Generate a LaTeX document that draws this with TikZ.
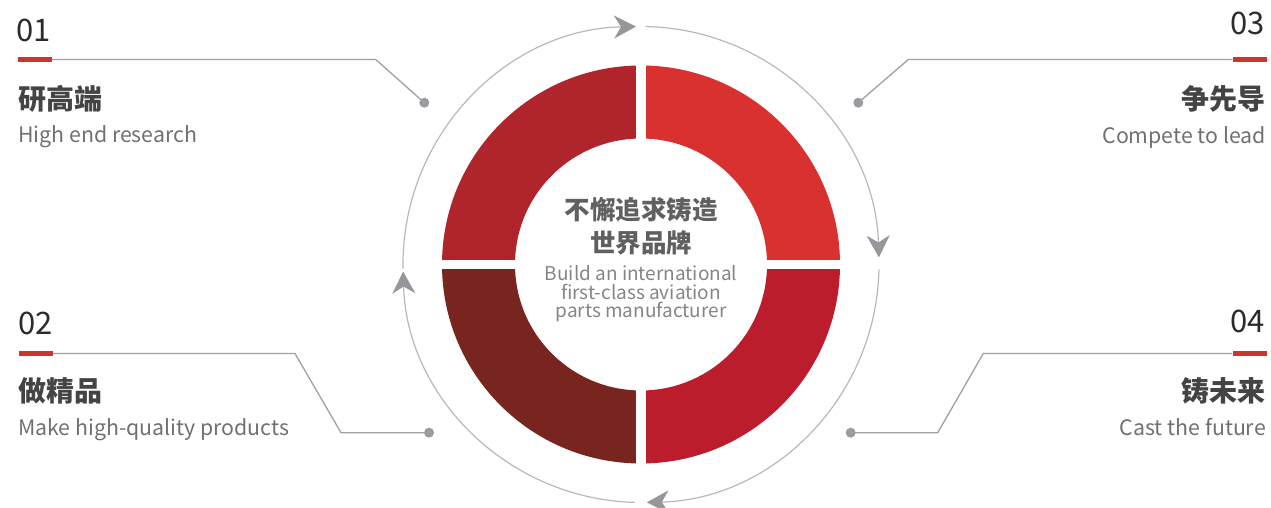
\documentclass[tikz,border=0pt]{standalone}
\usepackage{fontspec}
\setmainfont{Noto Sans CJK SC}
\usepackage{xcolor}
\usetikzlibrary{calc}
\usetikzlibrary{positioning, arrows.meta}

\definecolor{barred}{HTML}{C9362E}
\definecolor{linegray}{HTML}{A0A0A0}
\definecolor{dotgray}{HTML}{9A9BA0}
\definecolor{ringgray}{HTML}{B8B8BC}
\definecolor{tipgray}{HTML}{96969B}
\definecolor{numcol}{HTML}{2B2B2B}
\definecolor{titlecol}{HTML}{444444}
\definecolor{subcol}{HTML}{707070}
\definecolor{qTL}{HTML}{B0252C}
\definecolor{qTR}{HTML}{D93130}
\definecolor{qBR}{HTML}{BC1D2D}
\definecolor{qBL}{HTML}{78241F}

\begin{document}
\begin{tikzpicture}[x=1pt, y=1pt,
    num/.style={inner sep=0pt, text=numcol, font=\fontsize{31}{31}\selectfont},
    redbar/.style={fill=barred, inner sep=0pt, minimum width=34pt, minimum height=5.5pt},
    title/.style={inner sep=0pt, text=titlecol, font=\fontsize{28}{28}\selectfont\bfseries},
    sub/.style={inner sep=0pt, text=subcol, font=\fontsize{21.3}{21.3}\selectfont},
    dot/.style={circle, fill=dotgray, inner sep=0pt, minimum size=10pt},
    link/.style={draw=linegray, line width=1.3pt},
    ring/.style={draw=ringgray, line width=1.2pt, -{Stealth[length=22pt, width=23pt, inset=7pt, color=tipgray]}},
    slogan/.style={inner sep=0pt, text=titlecol!85, font=\fontsize{25.5}{25.5}\selectfont\bfseries},
    slogansub/.style={inner sep=0pt, text=subcol!85, font=\fontsize{19}{19}\selectfont}]
    \useasboundingbox (0,0) rectangle (1271,508);
    \coordinate (O) at (641,243.5);

    % Four quadrants of the ring
    \foreach \a/\c in {0/qTR, 90/qTL, 180/qBL, 270/qBR}
        \fill[\c] ($(O)+(\a:199)$) arc[start angle=\a, end angle=\a+90, radius=199]
            -- ($(O)+(\a+90:126)$) arc[start angle=\a+90, end angle=\a, radius=126] -- cycle;
    % White gaps between the quadrants
    \fill[white] ($(O)+(-4.8,-205)$) rectangle ($(O)+(4.8,205)$);
    \fill[white] ($(O)+(-205,-4.8)$) rectangle ($(O)+(205,4.8)$);

    % Outer circle with arrows, clockwise
    \foreach \s/\e in {181/91.2, 88.9/1.7, -1.2/-88.6, -91.4/-178.3}
        \draw[ring] ($(O)+(\s:238)$) arc[start angle=\s, end angle=\e, radius=238];

    % Centre text
    \node[slogan, anchor=base] (cn1) at (641,288) {不懈追求铸造};
    \node[slogan, anchor=base] (cn2) at (641,255.5) {世界品牌};
    \node[slogansub, anchor=base] (en1) at (641,227.3) {Build an international};
    \node[slogansub, anchor=base] (en2) at (641,208.3) {first-class aviation};
    \node[slogansub, anchor=base] (en3) at (641,190.3) {parts manufacturer};

    % 01 top left
    \node[num, anchor=base west] (n1) at (16.5,466.3) {01};
    \node[redbar] (bar1) at (34.5,448.5) {};
    \node[dot] (dot1) at (424.3,405.3) {};
    \draw[link] (bar1.east) -- (375.7,448.5) -- (dot1.center);
    \node[title, anchor=base west] (t1) at (18,398) {研高端};
    \node[sub, anchor=base west] (s1) at (18,365.3) {High end research};

    % 03 top right
    \node[num, anchor=base east] (n3) at (1265,473) {03};
    \node[redbar] (bar3) at (1249.5,448.5) {};
    \node[dot] (dot3) at (858.3,405.3) {};
    \draw[link] (bar3.west) -- (908.3,448.5) -- (dot3.center);
    \node[title, anchor=base east] (t3) at (1266,398) {争先导};
    \node[sub, anchor=base east] (s3) at (1266,364.7) {Compete to lead};

    % 02 bottom left
    \node[num, anchor=base west] (n2) at (18.5,173.7) {02};
    \node[redbar] (bar2) at (36,154.5) {};
    \node[dot] (dot2) at (429,75.3) {};
    \draw[link] (bar2.east) -- (295,154.5) -- (341,75.3) -- (dot2.center);
    \node[title, anchor=base west] (t2) at (18,106) {做精品};
    \node[sub, anchor=base west] (s2) at (18,72.3) {Make high-quality products};

    % 04 bottom right
    \node[num, anchor=base east] (n4) at (1265,175.7) {04};
    \node[redbar] (bar4) at (1249.5,154.5) {};
    \node[dot] (dot4) at (850.7,75.3) {};
    \draw[link] (bar4.west) -- (983.3,154.5) -- (937.7,75.3) -- (dot4.center);
    \node[title, anchor=base east] (t4) at (1266,106) {铸未来};
    \node[sub, anchor=base east] (s4) at (1266,72.3) {Cast the future};
\end{tikzpicture}
\end{document}
